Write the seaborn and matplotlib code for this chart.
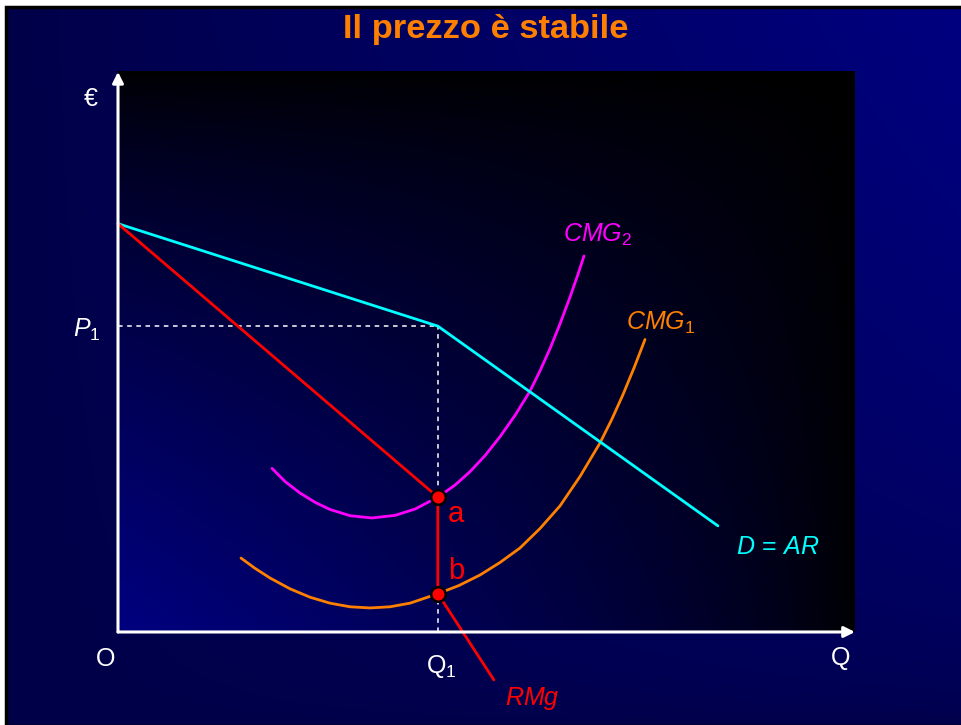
import numpy as np
import matplotlib
matplotlib.use("Agg")
import matplotlib.pyplot as plt
from matplotlib.patches import Rectangle
import seaborn as sns

# ---- data (quantity Q, price in the same units) ----
demand_q = [0.0, 43.4, 81.4]
demand_p = [55.4, 41.5, 14.4]

mr_q = [0.0, 43.4, 43.4, 51.0]
mr_p = [55.4, 18.3, 5.2, -6.5]

cmg2_q = [20.90, 22.66, 24.69, 26.73, 28.77, 31.48, 34.46, 37.58, 40.30, 43.42, 45.73,
          47.76, 49.80, 51.83, 53.87, 55.90, 57.26, 58.62, 59.97, 61.33, 62.42, 63.23]
cmg2_p = [22.20, 20.42, 18.86, 17.60, 16.62, 15.78, 15.47, 15.82, 16.68, 18.30, 19.93,
          21.75, 23.93, 26.49, 29.39, 32.67, 35.43, 38.45, 41.79, 45.43, 48.55, 51.02]

cmg1_q = [16.69, 18.59, 20.62, 23.34, 26.05, 28.77, 31.48, 34.19, 36.91, 39.62, 43.42, 46.27,
          49.12, 51.83, 54.55, 57.26, 59.97, 62.69, 65.40, 67.03, 68.52, 70.01, 71.51]
cmg1_p = [10.03, 8.64, 7.33, 5.86, 4.72, 3.91, 3.42, 3.26, 3.42, 3.91, 5.20, 6.31,
          7.73, 9.43, 11.40, 14.04, 17.10, 21.10, 25.64, 28.91, 32.21, 35.81, 39.69]

q1 = 43.4
p1 = 41.5
point_q = [43.4, 43.4]
point_p = [18.3, 5.2]
point_labels = ["a", "b"]
label_p = [14.9, 7.2]

q_max = 100.0
p_max = 76.0

# ---- style ----
sns.set_theme(style="white")
plt.rcParams["font.family"] = ["Liberation Sans", "DejaVu Sans"]
plt.rcParams["mathtext.fontset"] = "custom"
plt.rcParams["mathtext.rm"] = "Liberation Sans"
plt.rcParams["mathtext.it"] = "Liberation Sans:italic"

ORANGE = "#FF8000"
MAGENTA = "#FF00FF"
CYAN = "#00FFFF"
RED = "#FF0000"

fig = plt.figure(figsize=(9.62, 7.25), dpi=100, facecolor="white")
ax = fig.add_axes([0, 0, 1, 1])
ax.set_xlim(-16.01, 114.52)
ax.set_ylim(-12.62, 85.75)
ax.axis("off")

# slide background: brighter towards the top-right corner
sx0, sx1, sy0, sy1 = -15.2, 114.6, -12.7, 84.8
u = np.linspace(0, 1, 400)[None, :]
v = np.linspace(1, 0, 300)[:, None]
f = u * np.sqrt(v)
bg = np.zeros((300, 400, 3))
bg[..., 2] = (0x48 + (0x80 - 0x48) * f) / 255
ax.imshow(bg, extent=[sx0, sx1, sy0, sy1], aspect="auto", zorder=0, interpolation="bilinear")
ax.add_patch(Rectangle((sx0, sy0), sx1 - sx0, sy1 - sy0, fill=False,
                       edgecolor="black", lw=2.5, zorder=1))

# plot area: bright navy at the origin fading to black
u2 = np.linspace(0, 1, 400)[None, :]
v2 = np.linspace(1, 0, 300)[:, None]
g = ((1 - u2) * (1 - v2)) ** 0.7
pa = np.zeros((300, 400, 3))
pa[..., 2] = (0x80 * g) / 255
ax.imshow(pa, extent=[0, q_max, 0, p_max], aspect="auto", zorder=1, interpolation="bilinear")

# guide lines at Q1 / P1
ax.plot([0, q1], [p1, p1], color="white", lw=1.1, ls=(0, (3, 3)), zorder=2)
ax.plot([q1, q1], [0, p1], color="white", lw=1.1, ls=(0, (3, 3)), zorder=2)

# curves
lw = 2.0
kw = dict(lw=lw, sort=False, estimator=None, ax=ax)
sns.lineplot(x=cmg2_q, y=cmg2_p, color=MAGENTA, zorder=3, **kw)
sns.lineplot(x=cmg1_q, y=cmg1_p, color=ORANGE, zorder=3, **kw)
sns.lineplot(x=demand_q, y=demand_p, color=CYAN, zorder=3, **kw)
sns.lineplot(x=mr_q, y=mr_p, color=RED, zorder=4, **kw)
for ln in ax.get_lines():
    ln.set_solid_joinstyle("round")

# axes with arrows
arrow = dict(arrowstyle="-|>", color="white", lw=2.2, mutation_scale=16, shrinkA=0, shrinkB=0)
ax.annotate("", xy=(0, p_max), xytext=(0, 0), arrowprops=arrow, zorder=5)
ax.annotate("", xy=(q_max, 0), xytext=(0, 0), arrowprops=arrow, zorder=5)

# intersection points
sns.scatterplot(x=point_q, y=point_p, color=RED, s=110, edgecolor="black",
                linewidth=1.8, ax=ax, zorder=6, legend=False)
for qq, lp, lab in zip(point_q, label_p, point_labels):
    ax.text(qq + 1.4, lp, lab, color=RED, fontsize=21, ha="left", va="baseline", zorder=7)

# labels
fs = 18
ax.text(-4.7, 71.4, "€", color="white", fontsize=fs, ha="left", va="baseline")
ax.text(-3.0, -4.6, "O", color="white", fontsize=fs, ha="left", va="baseline")
ax.text(96.7, -4.5, "Q", color="white", fontsize=fs, ha="left", va="baseline")
ax.text(-6.1, 40.0, r"$P_{1}$", color="white", fontsize=fs, ha="left", va="baseline")
ax.text(41.8, -5.6, r"$\mathrm{Q}_{1}$", color="white", fontsize=fs, ha="left", va="baseline")
ax.text(60.4, 52.9, r"$CMG_{2}$", color=MAGENTA, fontsize=fs, ha="left", va="baseline")
ax.text(68.9, 41.0, r"$CMG_{1}$", color=ORANGE, fontsize=fs, ha="left", va="baseline")
ax.text(83.9, 10.6, r"$D\,=\,AR$", color=CYAN, fontsize=fs, ha="left", va="baseline")
ax.text(52.5, -9.9, r"$RMg$", color=RED, fontsize=fs, ha="left", va="baseline")

fig.text(0.505, 1 - 38 / 725, "Il prezzo è stabile", color=ORANGE, fontsize=24.8,
         fontweight="bold", ha="center", va="baseline")

fig.savefig("out.png", dpi=100, facecolor="white")
